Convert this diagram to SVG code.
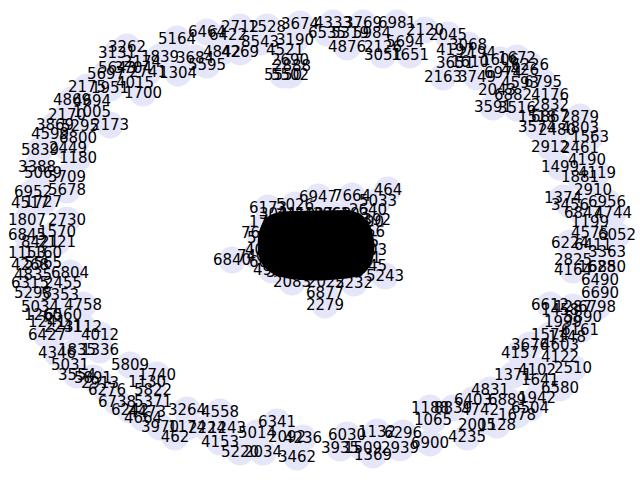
<svg xmlns="http://www.w3.org/2000/svg" width="640" height="480" viewBox="0 0 640 480">
<style>
#nodes circle{fill:#e6e6fa;stroke:none}
#labels text{font-family:"DejaVu Sans",sans-serif;font-size:15px;fill:#000;text-anchor:middle;dominant-baseline:central}
</style>
<rect width="640" height="480" fill="#fff"/>
<g id="nodes">
<g id="n5164"><circle cx="177" cy="39" r="13.6"/></g>
<g id="n6464"><circle cx="207" cy="32" r="13.6"/></g>
<g id="n2712"><circle cx="240" cy="27" r="13.6"/></g>
<g id="n1528"><circle cx="267" cy="27" r="13.6"/></g>
<g id="n3674"><circle cx="300" cy="24" r="13.6"/></g>
<g id="n6422"><circle cx="228" cy="35" r="13.6"/></g>
<g id="n8543"><circle cx="260" cy="42" r="13.6"/></g>
<g id="n4521"><circle cx="285" cy="50" r="13.6"/></g>
<g id="n3190"><circle cx="295" cy="40" r="13.6"/></g>
<g id="n1839"><circle cx="160" cy="57" r="13.6"/></g>
<g id="n3684"><circle cx="195" cy="58" r="13.6"/></g>
<g id="n4842"><circle cx="222" cy="52" r="13.6"/></g>
<g id="n4269"><circle cx="240" cy="52" r="13.6"/></g>
<g id="n3131"><circle cx="117" cy="53" r="13.6"/></g>
<g id="n3262"><circle cx="127" cy="47" r="13.6"/></g>
<g id="n2174"><circle cx="142" cy="62" r="13.6"/></g>
<g id="n1304"><circle cx="178" cy="73" r="13.6"/></g>
<g id="n5595"><circle cx="207" cy="65" r="13.6"/></g>
<g id="n5643"><circle cx="117" cy="68" r="13.6"/></g>
<g id="n5697"><circle cx="106" cy="74" r="13.6"/></g>
<g id="n3704"><circle cx="133" cy="68" r="13.6"/></g>
<g id="n2741"><circle cx="148" cy="72" r="13.6"/></g>
<g id="n2175"><circle cx="87" cy="87" r="13.6"/></g>
<g id="n1951"><circle cx="110" cy="88" r="13.6"/></g>
<g id="n4015"><circle cx="135" cy="83" r="13.6"/></g>
<g id="n1700"><circle cx="143" cy="93" r="13.6"/></g>
<g id="n4869"><circle cx="72" cy="100" r="13.6"/></g>
<g id="n4694"><circle cx="92" cy="101" r="13.6"/></g>
<g id="n2170"><circle cx="67" cy="115" r="13.6"/></g>
<g id="n1005"><circle cx="92" cy="112" r="13.6"/></g>
<g id="n3869"><circle cx="55" cy="125" r="13.6"/></g>
<g id="n5295"><circle cx="80" cy="126" r="13.6"/></g>
<g id="n2173"><circle cx="110" cy="125" r="13.6"/></g>
<g id="n4599"><circle cx="50" cy="134" r="13.6"/></g>
<g id="n6800"><circle cx="78" cy="138" r="13.6"/></g>
<g id="n5839"><circle cx="40" cy="150" r="13.6"/></g>
<g id="n2449"><circle cx="68" cy="148" r="13.6"/></g>
<g id="n1180"><circle cx="78" cy="158" r="13.6"/></g>
<g id="n2690"><circle cx="290" cy="60" r="13.6"/></g>
<g id="n2888"><circle cx="292" cy="66" r="13.6"/></g>
<g id="n5502"><circle cx="290" cy="75" r="13.6"/></g>
<g id="n5550"><circle cx="283" cy="75" r="13.6"/></g>
<g id="n4333"><circle cx="333" cy="23" r="13.6"/></g>
<g id="n3769"><circle cx="363" cy="23" r="13.6"/></g>
<g id="n6981"><circle cx="397" cy="23" r="13.6"/></g>
<g id="n6535"><circle cx="327" cy="33" r="13.6"/></g>
<g id="n5319"><circle cx="350" cy="33" r="13.6"/></g>
<g id="n5984"><circle cx="372" cy="33" r="13.6"/></g>
<g id="n2120"><circle cx="425" cy="30" r="13.6"/></g>
<g id="n2045"><circle cx="448" cy="35" r="13.6"/></g>
<g id="n4876"><circle cx="347" cy="47" r="13.6"/></g>
<g id="n2126"><circle cx="383" cy="47" r="13.6"/></g>
<g id="n5694"><circle cx="405" cy="42" r="13.6"/></g>
<g id="n3051"><circle cx="383" cy="55" r="13.6"/></g>
<g id="n1651"><circle cx="410" cy="55" r="13.6"/></g>
<g id="n3068"><circle cx="468" cy="45" r="13.6"/></g>
<g id="n4197"><circle cx="455" cy="50" r="13.6"/></g>
<g id="n2194"><circle cx="477" cy="53" r="13.6"/></g>
<g id="n1606"><circle cx="500" cy="60" r="13.6"/></g>
<g id="n1672"><circle cx="517" cy="58" r="13.6"/></g>
<g id="n3651"><circle cx="455" cy="63" r="13.6"/></g>
<g id="n1610"><circle cx="470" cy="62" r="13.6"/></g>
<g id="n2163"><circle cx="443" cy="77" r="13.6"/></g>
<g id="n3749"><circle cx="477" cy="77" r="13.6"/></g>
<g id="n6974"><circle cx="503" cy="73" r="13.6"/></g>
<g id="n4426"><circle cx="520" cy="70" r="13.6"/></g>
<g id="n6226"><circle cx="530" cy="65" r="13.6"/></g>
<g id="n2043"><circle cx="497" cy="90" r="13.6"/></g>
<g id="n6882"><circle cx="513" cy="95" r="13.6"/></g>
<g id="n4593"><circle cx="520" cy="83" r="13.6"/></g>
<g id="n6795"><circle cx="543" cy="82" r="13.6"/></g>
<g id="n4176"><circle cx="550" cy="95" r="13.6"/></g>
<g id="n3591"><circle cx="493" cy="107" r="13.6"/></g>
<g id="n3516"><circle cx="517" cy="108" r="13.6"/></g>
<g id="n2832"><circle cx="550" cy="105" r="13.6"/></g>
<g id="n1518"><circle cx="537" cy="117" r="13.6"/></g>
<g id="n6867"><circle cx="550" cy="117" r="13.6"/></g>
<g id="n2879"><circle cx="580" cy="117" r="13.6"/></g>
<g id="n3574"><circle cx="537" cy="127" r="13.6"/></g>
<g id="n2480"><circle cx="557" cy="130" r="13.6"/></g>
<g id="n4803"><circle cx="580" cy="128" r="13.6"/></g>
<g id="n1563"><circle cx="590" cy="137" r="13.6"/></g>
<g id="n2912"><circle cx="550" cy="147" r="13.6"/></g>
<g id="n2461"><circle cx="580" cy="148" r="13.6"/></g>
<g id="n4190"><circle cx="587" cy="160" r="13.6"/></g>
<g id="n1499"><circle cx="560" cy="167" r="13.6"/></g>
<g id="n4119"><circle cx="597" cy="173" r="13.6"/></g>
<g id="n1881"><circle cx="580" cy="177" r="13.6"/></g>
<g id="n2910"><circle cx="593" cy="190" r="13.6"/></g>
<g id="n1374"><circle cx="563" cy="198" r="13.6"/></g>
<g id="n3456"><circle cx="570" cy="205" r="13.6"/></g>
<g id="n6956"><circle cx="607" cy="202" r="13.6"/></g>
<g id="n6847"><circle cx="583" cy="213" r="13.6"/></g>
<g id="n4744"><circle cx="613" cy="213" r="13.6"/></g>
<g id="n1199"><circle cx="590" cy="222" r="13.6"/></g>
<g id="n4575"><circle cx="590" cy="233" r="13.6"/></g>
<g id="n6052"><circle cx="617" cy="235" r="13.6"/></g>
<g id="n6224"><circle cx="570" cy="243" r="13.6"/></g>
<g id="n6411"><circle cx="593" cy="245" r="13.6"/></g>
<g id="n3363"><circle cx="607" cy="252" r="13.6"/></g>
<g id="n2825"><circle cx="573" cy="260" r="13.6"/></g>
<g id="n1628"><circle cx="597" cy="267" r="13.6"/></g>
<g id="n6850"><circle cx="607" cy="267" r="13.6"/></g>
<g id="n4164"><circle cx="573" cy="270" r="13.6"/></g>
<g id="n6490"><circle cx="600" cy="280" r="13.6"/></g>
<g id="n6690"><circle cx="600" cy="293" r="13.6"/></g>
<g id="n6612"><circle cx="550" cy="305" r="13.6"/></g>
<g id="n1287"><circle cx="573" cy="307" r="13.6"/></g>
<g id="n6798"><circle cx="597" cy="307" r="13.6"/></g>
<g id="n1458"><circle cx="560" cy="310" r="13.6"/></g>
<g id="n5890"><circle cx="583" cy="317" r="13.6"/></g>
<g id="n1999"><circle cx="563" cy="322" r="13.6"/></g>
<g id="n6161"><circle cx="580" cy="330" r="13.6"/></g>
<g id="n1574"><circle cx="550" cy="335" r="13.6"/></g>
<g id="n1148"><circle cx="567" cy="337" r="13.6"/></g>
<g id="n3676"><circle cx="530" cy="345" r="13.6"/></g>
<g id="n4603"><circle cx="560" cy="345" r="13.6"/></g>
<g id="n4157"><circle cx="520" cy="353" r="13.6"/></g>
<g id="n4122"><circle cx="560" cy="357" r="13.6"/></g>
<g id="n4102"><circle cx="537" cy="370" r="13.6"/></g>
<g id="n2510"><circle cx="573" cy="368" r="13.6"/></g>
<g id="n1371"><circle cx="513" cy="375" r="13.6"/></g>
<g id="n1641"><circle cx="540" cy="380" r="13.6"/></g>
<g id="n6580"><circle cx="560" cy="388" r="13.6"/></g>
<g id="n4831"><circle cx="490" cy="390" r="13.6"/></g>
<g id="n6403"><circle cx="473" cy="400" r="13.6"/></g>
<g id="n6889"><circle cx="507" cy="400" r="13.6"/></g>
<g id="n1942"><circle cx="537" cy="398" r="13.6"/></g>
<g id="n1188"><circle cx="430" cy="408" r="13.6"/></g>
<g id="n8839"><circle cx="453" cy="408" r="13.6"/></g>
<g id="n4742"><circle cx="480" cy="410" r="13.6"/></g>
<g id="n6504"><circle cx="530" cy="408" r="13.6"/></g>
<g id="n1678"><circle cx="517" cy="415" r="13.6"/></g>
<g id="n1065"><circle cx="433" cy="420" r="13.6"/></g>
<g id="n2005"><circle cx="477" cy="425" r="13.6"/></g>
<g id="n1128"><circle cx="497" cy="425" r="13.6"/></g>
<g id="n4235"><circle cx="467" cy="437" r="13.6"/></g>
<g id="n6900"><circle cx="430" cy="443" r="13.6"/></g>
<g id="n6296"><circle cx="403" cy="433" r="13.6"/></g>
<g id="n2939"><circle cx="400" cy="448" r="13.6"/></g>
<g id="n1132"><circle cx="377" cy="432" r="13.6"/></g>
<g id="n6030"><circle cx="347" cy="435" r="13.6"/></g>
<g id="n1509"><circle cx="363" cy="448" r="13.6"/></g>
<g id="n1369"><circle cx="373" cy="455" r="13.6"/></g>
<g id="n3935"><circle cx="340" cy="448" r="13.6"/></g>
<g id="n4236"><circle cx="303" cy="438" r="13.6"/></g>
<g id="n3462"><circle cx="297" cy="457" r="13.6"/></g>
<g id="n2034"><circle cx="263" cy="452" r="13.6"/></g>
<g id="n5220"><circle cx="240" cy="452" r="13.6"/></g>
<g id="n2092"><circle cx="287" cy="437" r="13.6"/></g>
<g id="n5014"><circle cx="257" cy="433" r="13.6"/></g>
<g id="n6341"><circle cx="277" cy="422" r="13.6"/></g>
<g id="n4153"><circle cx="220" cy="442" r="13.6"/></g>
<g id="n1243"><circle cx="227" cy="428" r="13.6"/></g>
<g id="n2224"><circle cx="207" cy="428" r="13.6"/></g>
<g id="n462"><circle cx="175" cy="437" r="13.6"/></g>
<g id="n3970"><circle cx="160" cy="427" r="13.6"/></g>
<g id="n1174"><circle cx="187" cy="427" r="13.6"/></g>
<g id="n3264"><circle cx="187" cy="410" r="13.6"/></g>
<g id="n4558"><circle cx="220" cy="412" r="13.6"/></g>
<g id="n4664"><circle cx="143" cy="418" r="13.6"/></g>
<g id="n4473"><circle cx="147" cy="412" r="13.6"/></g>
<g id="n6242"><circle cx="130" cy="410" r="13.6"/></g>
<g id="n6738"><circle cx="117" cy="402" r="13.6"/></g>
<g id="n5371"><circle cx="153" cy="402" r="13.6"/></g>
<g id="n6276"><circle cx="107" cy="390" r="13.6"/></g>
<g id="n5822"><circle cx="153" cy="390" r="13.6"/></g>
<g id="n2913"><circle cx="100" cy="383" r="13.6"/></g>
<g id="n1130"><circle cx="147" cy="382" r="13.6"/></g>
<g id="n3554"><circle cx="77" cy="375" r="13.6"/></g>
<g id="n5891"><circle cx="93" cy="378" r="13.6"/></g>
<g id="n1740"><circle cx="157" cy="375" r="13.6"/></g>
<g id="n5031"><circle cx="70" cy="365" r="13.6"/></g>
<g id="n5809"><circle cx="130" cy="365" r="13.6"/></g>
<g id="n4346"><circle cx="57" cy="353" r="13.6"/></g>
<g id="n1835"><circle cx="77" cy="350" r="13.6"/></g>
<g id="n1336"><circle cx="100" cy="350" r="13.6"/></g>
<g id="n6427"><circle cx="47" cy="335" r="13.6"/></g>
<g id="n4012"><circle cx="100" cy="335" r="13.6"/></g>
<g id="n2241"><circle cx="63" cy="327" r="13.6"/></g>
<g id="n3112"><circle cx="83" cy="327" r="13.6"/></g>
<g id="n1241"><circle cx="47" cy="322" r="13.6"/></g>
<g id="n3388"><circle cx="37" cy="167" r="13.6"/></g>
<g id="n5069"><circle cx="43" cy="173" r="13.6"/></g>
<g id="n5709"><circle cx="67" cy="177" r="13.6"/></g>
<g id="n6952"><circle cx="33" cy="192" r="13.6"/></g>
<g id="n5678"><circle cx="67" cy="190" r="13.6"/></g>
<g id="n4517"><circle cx="30" cy="203" r="13.6"/></g>
<g id="n1727"><circle cx="43" cy="202" r="13.6"/></g>
<g id="n1807"><circle cx="27" cy="220" r="13.6"/></g>
<g id="n2730"><circle cx="67" cy="220" r="13.6"/></g>
<g id="n6845"><circle cx="27" cy="235" r="13.6"/></g>
<g id="n1570"><circle cx="57" cy="232" r="13.6"/></g>
<g id="n8421"><circle cx="40" cy="242" r="13.6"/></g>
<g id="n2121"><circle cx="57" cy="242" r="13.6"/></g>
<g id="n1153"><circle cx="27" cy="253" r="13.6"/></g>
<g id="n1160"><circle cx="43" cy="253" r="13.6"/></g>
<g id="n4268"><circle cx="30" cy="265" r="13.6"/></g>
<g id="n5565"><circle cx="43" cy="263" r="13.6"/></g>
<g id="n4835"><circle cx="33" cy="275" r="13.6"/></g>
<g id="n6804"><circle cx="70" cy="273" r="13.6"/></g>
<g id="n6315"><circle cx="30" cy="283" r="13.6"/></g>
<g id="n2455"><circle cx="63" cy="283" r="13.6"/></g>
<g id="n5298"><circle cx="33" cy="293" r="13.6"/></g>
<g id="n5353"><circle cx="60" cy="295" r="13.6"/></g>
<g id="n5034"><circle cx="40" cy="307" r="13.6"/></g>
<g id="n4758"><circle cx="83" cy="305" r="13.6"/></g>
<g id="n1260"><circle cx="43" cy="315" r="13.6"/></g>
<g id="n6560"><circle cx="63" cy="315" r="13.6"/></g>
<g id="n6947"><circle cx="318" cy="197" r="13.6"/></g>
<g id="n7664"><circle cx="352" cy="196" r="13.6"/></g>
<g id="n464"><circle cx="388" cy="190" r="13.6"/></g>
<g id="n5033"><circle cx="378" cy="201" r="13.6"/></g>
<g id="n6173"><circle cx="268" cy="208" r="13.6"/></g>
<g id="n5026"><circle cx="295" cy="205" r="13.6"/></g>
<g id="n7693"><circle cx="260" cy="233" r="13.6"/></g>
<g id="n6840"><circle cx="232" cy="260" r="13.6"/></g>
<g id="n7405"><circle cx="256" cy="256" r="13.6"/></g>
<g id="n4912"><circle cx="272" cy="270" r="13.6"/></g>
<g id="n2083"><circle cx="292" cy="282" r="13.6"/></g>
<g id="n2022"><circle cx="326" cy="282" r="13.6"/></g>
<g id="n5232"><circle cx="354" cy="283" r="13.6"/></g>
<g id="n5243"><circle cx="385" cy="276" r="13.6"/></g>
<g id="n1345"><circle cx="368" cy="266" r="13.6"/></g>
<g id="n4615"><circle cx="360" cy="242" r="13.6"/></g>
<g id="n6877"><circle cx="325" cy="293" r="13.6"/></g>
<g id="n2279"><circle cx="325" cy="305" r="13.6"/></g>
<g id="n3392"><circle cx="372" cy="220" r="13.6"/></g>
<g id="n2640"><circle cx="368" cy="210" r="13.6"/></g>
<g id="n3021"><circle cx="278" cy="214" r="13.6"/></g>
<g id="n4410"><circle cx="296" cy="214" r="13.6"/></g>
<g id="n5187"><circle cx="314" cy="214" r="13.6"/></g>
<g id="n2968"><circle cx="332" cy="214" r="13.6"/></g>
<g id="n6103"><circle cx="350" cy="214" r="13.6"/></g>
<g id="n1752"><circle cx="268" cy="222" r="13.6"/></g>
<g id="n3390"><circle cx="365" cy="222" r="13.6"/></g>
<g id="n5722"><circle cx="266" cy="238" r="13.6"/></g>
<g id="n4087"><circle cx="264" cy="250" r="13.6"/></g>
<g id="n6618"><circle cx="268" cy="262" r="13.6"/></g>
<g id="n2256"><circle cx="366" cy="232" r="13.6"/></g>
<g id="n1903"><circle cx="368" cy="250" r="13.6"/></g>
<g id="n4471"><circle cx="362" cy="258" r="13.6"/></g>
<g id="n3847"><circle cx="285" cy="272" r="13.6"/></g>
<g id="n5118"><circle cx="305" cy="272" r="13.6"/></g>
<g id="n2604"><circle cx="325" cy="272" r="13.6"/></g>
<g id="n6329"><circle cx="345" cy="272" r="13.6"/></g>
<g id="n2539"><circle cx="300" cy="240" r="13.6"/></g>
<g id="n4718"><circle cx="330" cy="245" r="13.6"/></g>
<g id="n1497"><circle cx="315" cy="258" r="13.6"/></g>
<g id="n5911"><circle cx="290" cy="228" r="13.6"/></g>
<g id="n3602"><circle cx="340" cy="228" r="13.6"/></g>
</g>
<g id="connectors">
<path d="M262,224 C266,214 278,211 292,211 L348,210 C364,212 372,224 374,240 C376,256 371,270 360,276 C340,281 302,282 285,278 C268,274 259,266 258,250 C257,238 259,230 262,224 Z" fill="#000"/>
</g>
<g id="labels">
<text x="177" y="39">5164</text><text x="207" y="32">6464</text><text x="240" y="27">2712</text><text x="267" y="27">1528</text><text x="300" y="24">3674</text><text x="228" y="35">6422</text><text x="260" y="42">8543</text><text x="285" y="50">4521</text><text x="295" y="40">3190</text><text x="160" y="57">1839</text><text x="195" y="58">3684</text><text x="222" y="52">4842</text><text x="240" y="52">4269</text><text x="117" y="53">3131</text><text x="127" y="47">3262</text><text x="142" y="62">2174</text><text x="178" y="73">1304</text><text x="207" y="65">5595</text><text x="117" y="68">5643</text><text x="106" y="74">5697</text><text x="133" y="68">3704</text><text x="148" y="72">2741</text><text x="87" y="87">2175</text><text x="110" y="88">1951</text><text x="135" y="83">4015</text><text x="143" y="93">1700</text><text x="72" y="100">4869</text><text x="92" y="101">4694</text><text x="67" y="115">2170</text><text x="92" y="112">1005</text><text x="55" y="125">3869</text><text x="80" y="126">5295</text><text x="110" y="125">2173</text><text x="50" y="134">4599</text><text x="78" y="138">6800</text><text x="40" y="150">5839</text><text x="68" y="148">2449</text><text x="78" y="158">1180</text><text x="290" y="60">2690</text><text x="292" y="66">2888</text><text x="290" y="75">5502</text><text x="283" y="75">5550</text>
<text x="333" y="23">4333</text><text x="363" y="23">3769</text><text x="397" y="23">6981</text><text x="327" y="33">6535</text><text x="350" y="33">5319</text><text x="372" y="33">5984</text><text x="425" y="30">2120</text><text x="448" y="35">2045</text><text x="347" y="47">4876</text><text x="383" y="47">2126</text><text x="405" y="42">5694</text><text x="383" y="55">3051</text><text x="410" y="55">1651</text><text x="468" y="45">3068</text><text x="455" y="50">4197</text><text x="477" y="53">2194</text><text x="500" y="60">1606</text><text x="517" y="58">1672</text><text x="455" y="63">3651</text><text x="470" y="62">1610</text><text x="443" y="77">2163</text><text x="477" y="77">3749</text><text x="503" y="73">6974</text><text x="520" y="70">4426</text><text x="530" y="65">6226</text><text x="497" y="90">2043</text><text x="513" y="95">6882</text><text x="520" y="83">4593</text><text x="543" y="82">6795</text><text x="550" y="95">4176</text><text x="493" y="107">3591</text><text x="517" y="108">3516</text><text x="550" y="105">2832</text><text x="537" y="117">1518</text><text x="550" y="117">6867</text><text x="580" y="117">2879</text><text x="537" y="127">3574</text><text x="557" y="130">2480</text><text x="580" y="128">4803</text><text x="590" y="137">1563</text><text x="550" y="147">2912</text><text x="580" y="148">2461</text><text x="587" y="160">4190</text><text x="560" y="167">1499</text><text x="597" y="173">4119</text><text x="580" y="177">1881</text>
<text x="593" y="190">2910</text><text x="563" y="198">1374</text><text x="570" y="205">3456</text><text x="607" y="202">6956</text><text x="583" y="213">6847</text><text x="613" y="213">4744</text><text x="590" y="222">1199</text><text x="590" y="233">4575</text><text x="617" y="235">6052</text><text x="570" y="243">6224</text><text x="593" y="245">6411</text><text x="607" y="252">3363</text><text x="573" y="260">2825</text><text x="597" y="267">1628</text><text x="607" y="267">6850</text><text x="573" y="270">4164</text><text x="600" y="280">6490</text><text x="600" y="293">6690</text><text x="550" y="305">6612</text><text x="573" y="307">1287</text><text x="597" y="307">6798</text><text x="560" y="310">1458</text><text x="583" y="317">5890</text><text x="563" y="322">1999</text><text x="580" y="330">6161</text><text x="550" y="335">1574</text><text x="567" y="337">1148</text>
<text x="530" y="345">3676</text><text x="560" y="345">4603</text><text x="520" y="353">4157</text><text x="560" y="357">4122</text><text x="537" y="370">4102</text><text x="573" y="368">2510</text><text x="513" y="375">1371</text><text x="540" y="380">1641</text><text x="560" y="388">6580</text><text x="490" y="390">4831</text><text x="473" y="400">6403</text><text x="507" y="400">6889</text><text x="537" y="398">1942</text><text x="430" y="408">1188</text><text x="453" y="408">8839</text><text x="480" y="410">4742</text><text x="530" y="408">6504</text><text x="517" y="415">1678</text><text x="433" y="420">1065</text><text x="477" y="425">2005</text><text x="497" y="425">1128</text><text x="467" y="437">4235</text><text x="430" y="443">6900</text><text x="403" y="433">6296</text><text x="400" y="448">2939</text><text x="377" y="432">1132</text><text x="347" y="435">6030</text><text x="363" y="448">1509</text><text x="373" y="455">1369</text><text x="340" y="448">3935</text>
<text x="303" y="438">4236</text><text x="297" y="457">3462</text><text x="263" y="452">2034</text><text x="240" y="452">5220</text><text x="287" y="437">2092</text><text x="257" y="433">5014</text><text x="277" y="422">6341</text><text x="220" y="442">4153</text><text x="227" y="428">1243</text><text x="207" y="428">2224</text><text x="175" y="437">462</text><text x="160" y="427">3970</text><text x="187" y="427">1174</text><text x="187" y="410">3264</text><text x="220" y="412">4558</text><text x="143" y="418">4664</text><text x="147" y="412">4473</text><text x="130" y="410">6242</text><text x="117" y="402">6738</text><text x="153" y="402">5371</text><text x="107" y="390">6276</text><text x="153" y="390">5822</text><text x="100" y="383">2913</text><text x="147" y="382">1130</text><text x="77" y="375">3554</text><text x="93" y="378">5891</text><text x="157" y="375">1740</text><text x="70" y="365">5031</text><text x="130" y="365">5809</text><text x="57" y="353">4346</text><text x="77" y="350">1835</text><text x="100" y="350">1336</text><text x="47" y="335">6427</text><text x="100" y="335">4012</text><text x="63" y="327">2241</text><text x="83" y="327">3112</text><text x="47" y="322">1241</text>
<text x="37" y="167">3388</text><text x="43" y="173">5069</text><text x="67" y="177">5709</text><text x="33" y="192">6952</text><text x="67" y="190">5678</text><text x="30" y="203">4517</text><text x="43" y="202">1727</text><text x="27" y="220">1807</text><text x="67" y="220">2730</text><text x="27" y="235">6845</text><text x="57" y="232">1570</text><text x="40" y="242">8421</text><text x="57" y="242">2121</text><text x="27" y="253">1153</text><text x="43" y="253">1160</text><text x="30" y="265">4268</text><text x="43" y="263">5565</text><text x="33" y="275">4835</text><text x="70" y="273">6804</text><text x="30" y="283">6315</text><text x="63" y="283">2455</text><text x="33" y="293">5298</text><text x="60" y="295">5353</text><text x="40" y="307">5034</text><text x="83" y="305">4758</text><text x="43" y="315">1260</text><text x="63" y="315">6560</text>
<text x="318" y="197">6947</text><text x="352" y="196">7664</text><text x="388" y="190">464</text><text x="378" y="201">5033</text><text x="268" y="208">6173</text><text x="295" y="205">5026</text><text x="260" y="233">7693</text><text x="232" y="260">6840</text><text x="256" y="256">7405</text><text x="272" y="270">4912</text><text x="292" y="282">2083</text><text x="326" y="282">2022</text><text x="354" y="283">5232</text><text x="385" y="276">5243</text><text x="368" y="266">1345</text><text x="360" y="242">4615</text><text x="325" y="293">6877</text><text x="325" y="305">2279</text><text x="372" y="220">3392</text><text x="368" y="210">2640</text>
<text x="278" y="214">3021</text><text x="296" y="214">4410</text><text x="314" y="214">5187</text><text x="332" y="214">2968</text><text x="350" y="214">6103</text><text x="268" y="222">1752</text><text x="365" y="222">3390</text><text x="266" y="238">5722</text><text x="264" y="250">4087</text><text x="268" y="262">6618</text><text x="366" y="232">2256</text><text x="368" y="250">1903</text><text x="362" y="258">4471</text><text x="285" y="272">3847</text><text x="305" y="272">5118</text><text x="325" y="272">2604</text><text x="345" y="272">6329</text><text x="300" y="240">2539</text><text x="330" y="245">4718</text><text x="315" y="258">1497</text><text x="290" y="228">5911</text><text x="340" y="228">3602</text>
</g>
</svg>
